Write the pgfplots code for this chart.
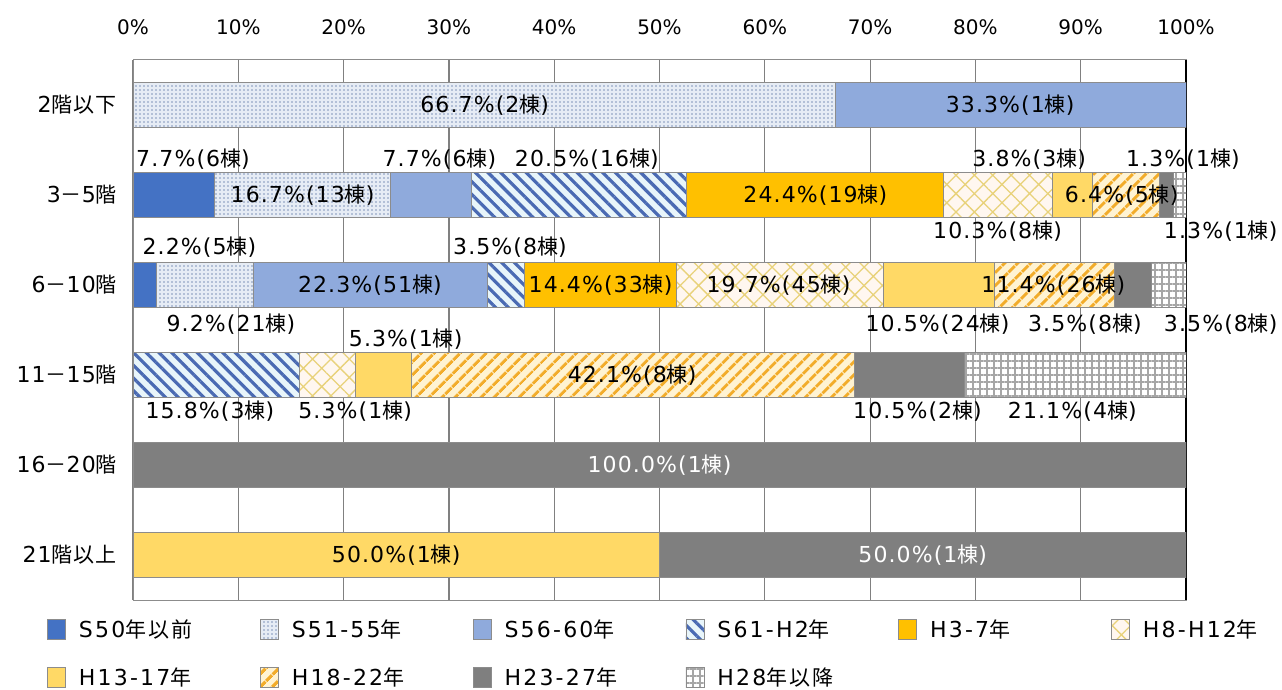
\documentclass[border=0pt]{standalone}
\usepackage{pgfplots}
\pgfplotsset{compat=1.18}
\usepackage{fontspec}
\setmainfont{DejaVu Sans}
\newfontfamily\latf{DejaVu Sans}[LetterSpace=5]
\newfontfamily\cjf{Noto Sans CJK JP}[LetterSpace=5]
\newfontfamily\latwf{DejaVu Sans}[LetterSpace=10]
\newfontfamily\cjwf{Noto Sans CJK JP}[LetterSpace=10]
\newfontfamily\tickf{DejaVu Sans}
\usetikzlibrary{patterns.meta}

\definecolor{cSfifty}{HTML}{4472C4}
\definecolor{cSdots}{HTML}{7F93BA}
\definecolor{cSdotsbg}{HTML}{E6ECF5}
\definecolor{cSfiftysix}{HTML}{8FAADC}
\definecolor{cSstripe}{HTML}{4A6AB3}
\definecolor{cSstripebg}{HTML}{E8F5FA}
\definecolor{cHthree}{HTML}{FFC000}
\definecolor{cHcross}{HTML}{E8D27A}
\definecolor{cHcrossbg}{HTML}{FFF7F0}
\definecolor{cHthirteen}{HTML}{FFD966}
\definecolor{cHstripe}{HTML}{F2AC2A}
\definecolor{cHstripebg}{HTML}{FFF3D2}
\definecolor{cHtwentythree}{HTML}{7F7F7F}
\definecolor{cHgrid}{HTML}{A6A6A6}
\definecolor{cEdge}{HTML}{8C8C8C}

% Latin part and kanji part of every text are set in separate families
\newcommand\lat{\latf\fontsize{22bp}{26bp}\selectfont}
\newcommand\cj{\cjf\fontsize{21bp}{26bp}\selectfont}
\newcommand\latw{\latwf\fontsize{22bp}{26bp}\selectfont}
\newcommand\cjw{\cjwf\fontsize{21bp}{26bp}\selectfont}
\newcommand\tickfont{\tickf\fontsize{20bp}{24bp}\selectfont}
% data label: x, y, percentage, number of buildings
\newcommand\lbl[4]{\node[inner sep=0pt] at (axis cs:#1,#2) {{\lat #3\%(#4}{\cj 棟}{\lat )}};}
\newcommand\wlbl[4]{\node[inner sep=0pt, text=white] at (axis cs:#1,#2) {{\lat #3\%(#4}{\cj 棟}{\lat )}};}
\newcommand\lent[2]{\makebox[181bp][l]{{\latw #1}{\cjw #2}}}

\newcommand\datalabels{%
\lbl{33.4}{5}{66.7}{2}
\lbl{83.3}{5}{33.3}{1}
%
\lbl{5.7}{4.394}{7.7}{6}
\lbl{16.1}{4}{16.7}{13}
\lbl{29.1}{4.394}{7.7}{6}
\lbl{43.1}{4.394}{20.5}{16}
\lbl{64.8}{4}{24.4}{19}
\lbl{85.1}{4.394}{3.8}{3}
\lbl{82.1}{3.594}{10.3}{8}
\lbl{93.9}{4}{6.4}{5}
\lbl{99.7}{4.394}{1.3}{1}
\lbl{103.3}{3.594}{1.3}{1}
%
\lbl{6.3}{3.417}{2.2}{5}
\lbl{9.3}{2.561}{9.2}{21}
\lbl{22.5}{3}{22.3}{51}
\lbl{35.8}{3.417}{3.5}{8}
\lbl{44.4}{3}{14.4}{33}
\lbl{61.3}{3}{19.7}{45}
\lbl{76.4}{2.561}{10.5}{24}
\lbl{87.4}{3}{11.4}{26}
\lbl{90.4}{2.561}{3.5}{8}
\lbl{103.3}{2.561}{3.5}{8}
%
\lbl{25.9}{2.394}{5.3}{1}
\lbl{7.3}{1.594}{15.8}{3}
\lbl{21.1}{1.594}{5.3}{1}
\lbl{47.4}{2}{42.1}{8}
\lbl{74.5}{1.594}{10.5}{2}
\lbl{89.2}{1.594}{21.1}{4}
%
\wlbl{50}{1}{100.0}{1}
\lbl{25}{0}{50.0}{1}
\wlbl{75}{0}{50.0}{1}
}

\begin{document}
\begin{tikzpicture}
\useasboundingbox (0,0) rectangle (1282bp,690bp);
\begin{axis}[
  at={(133bp,90bp)}, anchor=south west,
  width=1053bp, height=540bp, scale only axis,
  xbar stacked, bar width=45bp,
  xmin=0, xmax=100, ymin=-0.5, ymax=5.5,
  enlargelimits=false,
  clip mode=individual,
  xtick={0,10,...,100},
  xticklabels={0\%,10\%,20\%,30\%,40\%,50\%,60\%,70\%,80\%,90\%,100\%},
  xticklabel pos=upper,
  xticklabel style={font=\tickfont, anchor=center, yshift=33bp},
  ytick={0,1,2,3,4,5},
  yticklabels={
    {{\lat 21}{\cj 階以上}},
    {{\lat 16}{\cj －}{\lat 20}{\cj 階}},
    {{\lat 11}{\cj －}{\lat 15}{\cj 階}},
    {{\lat 6}{\cj －}{\lat 10}{\cj 階}},
    {{\lat 3}{\cj －}{\lat 5}{\cj 階}},
    {{\lat 2}{\cj 階以下}}},
  yticklabel style={anchor=east, inner sep=0pt, xshift=-16bp},
  major tick length=0pt,
  xmajorgrids, grid style={draw=black!50, line width=1.2bp},
  extra x ticks={100}, extra x tick labels={},
  extra x tick style={grid style={draw=black, line width=1.2bp}},
  axis line style={draw=black!45, line width=1bp},
  /pgf/number format/assume math mode=true,
  every axis plot/.append style={draw=cEdge, line width=0.8bp},
  legend columns=6,
  legend cell align=left,
  legend style={at={(axis description cs:-0.0817,-0.035)}, anchor=north west,
    draw=none, fill=none, inner sep=0pt,
    nodes={inner sep=0pt},
    /tikz/every odd column/.append style={column sep=13bp},
    /tikz/every even column/.append style={column sep=0pt},
    row sep=27bp},
  legend image code/.code={\draw[#1] (0bp,-10bp) rectangle (18bp,10bp);},
  after end axis/.append code={\datalabels},
]
% rows, top to bottom: 2階以下 (5) ... 21階以上 (0)
\addplot[fill=cSfifty] coordinates {(0,5) (7.7,4) (2.2,3) (0,2) (0,1) (0,0)};
\addlegendentry{\lent{S50}{年以前}}
\addplot[fill=cSdotsbg, postaction={pattern={Dots[distance=4bp, radius=0.85bp]}, pattern color=cSdots}]
  coordinates {(66.7,5) (16.7,4) (9.2,3) (0,2) (0,1) (0,0)};
\addlegendentry{\lent{S51-55}{年}}
\addplot[fill=cSfiftysix] coordinates {(33.3,5) (7.7,4) (22.3,3) (0,2) (0,1) (0,0)};
\addlegendentry{\lent{S56-60}{年}}
\addplot[fill=cSstripebg, postaction={pattern={Lines[angle=-45, distance=9bp, line width=3.2bp]}, pattern color=cSstripe}]
  coordinates {(0,5) (20.5,4) (3.5,3) (15.8,2) (0,1) (0,0)};
\addlegendentry{\lent{S61-H2}{年}}
\addplot[fill=cHthree] coordinates {(0,5) (24.4,4) (14.4,3) (0,2) (0,1) (0,0)};
\addlegendentry{\lent{H3-7}{年}}
\addplot[fill=cHcrossbg, postaction={pattern={Hatch[angle=45, distance=13bp, line width=1.3bp]}, pattern color=cHcross}]
  coordinates {(0,5) (10.3,4) (19.7,3) (5.3,2) (0,1) (0,0)};
\addlegendentry{\lent{H8-H12}{年}}
\addplot[fill=cHthirteen] coordinates {(0,5) (3.8,4) (10.5,3) (5.3,2) (0,1) (50,0)};
\addlegendentry{\lent{H13-17}{年}}
\addplot[fill=cHstripebg, postaction={pattern={Lines[angle=45, distance=10bp, line width=3.6bp]}, pattern color=cHstripe}]
  coordinates {(0,5) (6.4,4) (11.4,3) (42.1,2) (0,1) (0,0)};
\addlegendentry{\lent{H18-22}{年}}
\addplot[fill=cHtwentythree] coordinates {(0,5) (1.3,4) (3.5,3) (10.5,2) (100,1) (50,0)};
\addlegendentry{\lent{H23-27}{年}}
\addplot[fill=white, postaction={pattern={Hatch[angle=0, distance=7bp, line width=1.6bp]}, pattern color=cHgrid}]
  coordinates {(0,5) (1.3,4) (3.5,3) (21.1,2) (0,1) (0,0)};
\addlegendentry{\lent{H28}{年以降}}
\end{axis}
\end{tikzpicture}
\end{document}
